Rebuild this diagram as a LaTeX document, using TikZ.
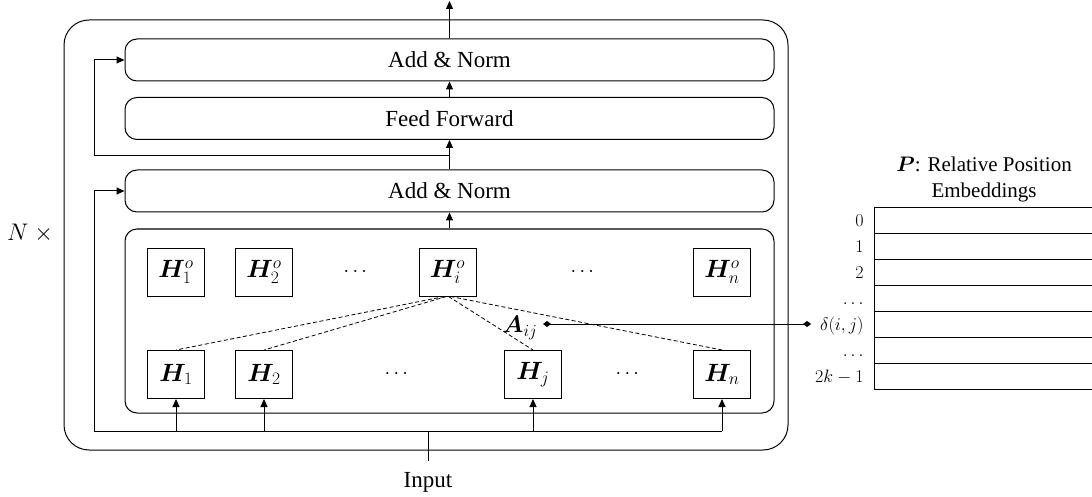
\RequirePackage{fix-cm}
\documentclass[tikz,border=0pt]{standalone}
\usepackage{amsmath}
\usepackage{bm}
\usepackage{fontspec}
\setmainfont{Liberation Serif}
\usetikzlibrary{arrows.meta}
\begin{document}
\begin{tikzpicture}[x=1pt,y=-1pt,
  line width=1pt,
  arr/.style={-{Triangle[length=8pt,width=7pt]}},
  dd/.style={{Diamond[length=8pt,width=6pt]}-{Diamond[length=8pt,width=6pt]}},
  layer/.style={draw, rounded corners=12pt, minimum width=649pt, minimum height=42pt, inner sep=0pt, font=\fontsize{23}{26}\selectfont},
  hbox/.style={draw, minimum width=57pt, minimum height=48pt, inner sep=0pt, font=\fontsize{25}{28}\selectfont},
  dotsn/.style={inner sep=0pt, font=\fontsize{20}{22}\selectfont},
  dashline/.style={dash pattern=on 4pt off 2.5pt, line width=0.8pt},
  lbl/.style={anchor=base east, inner sep=0pt, font=\fontsize{18}{20}\selectfont},
  ]
\useasboundingbox (0,0) rectangle (1092,497);

% containers
\node[draw, rounded corners=25pt, minimum width=724pt, minimum height=430pt, inner sep=0pt] (outer) at (426,235) {};
\node[layer] (ANtop) at (449.5,60) {Add \& Norm};
\node[layer] (FF) at (449.5,118.5) {Feed Forward};
\node[layer] (AN2) at (449.5,191) {Add \& Norm};
\node[layer, minimum height=184pt] (inner) at (449.5,321) {};

\node[inner sep=0pt, font=\fontsize{24}{26}\selectfont] (N) at (30,233) {$N$ $\times$};

% attention outputs
\node[hbox] (Hoa) at (176,272) {$\bm{H}^{o}_{1}$};
\node[hbox] (Hob) at (264,272) {$\bm{H}^{o}_{2}$};
\node[hbox] (Hoi) at (447.5,272) {$\bm{H}^{o}_{i}$};
\node[hbox] (Hon) at (722,272) {$\bm{H}^{o}_{n}$};
\node[dotsn] (d1) at (357,272) {$\cdots$};
\node[dotsn] (d2) at (584,272) {$\cdots$};

% inputs
\node[hbox] (Ha) at (176,374.5) {$\bm{H}_{1}$};
\node[hbox] (Hb) at (264,374.5) {$\bm{H}_{2}$};
\node[hbox] (Hj) at (533,374.5) {$\bm{H}_{j}$};
\node[hbox] (Hn) at (722,374.5) {$\bm{H}_{n}$};
\node[dotsn] (d3) at (398,374.5) {$\cdots$};
\node[dotsn] (d4) at (629,374.5) {$\cdots$};

% attention dashed lines
\draw[dashline] ([xshift=-3pt]Hoi.south) -- (Ha.north);
\draw[dashline] ([xshift=-1pt]Hoi.south) -- (Hb.north);
\draw[dashline] ([xshift=1pt]Hoi.south) -- (Hj.north);
\draw[dashline] ([xshift=3pt]Hoi.south) -- (Hn.north);

\node[inner sep=0pt, font=\fontsize{24}{26}\selectfont] (A) at (520,328) {$\bm{A}_{ij}$};

% vertical flow
\coordinate (out) at (449.5,1);
\draw[arr] (inner.north) -- (AN2.south);
\draw[arr] (AN2.north) -- (FF.south);
\draw[arr] (FF.north) -- (ANtop.south);
\draw[arr] (ANtop.north) -- (out);

% residual connections
\coordinate (fb1) at (449.5,156);
\coordinate (busL) at (94,431);
\coordinate (busR) at (722,431);
\draw[arr] (fb1) -- (94,156) |- (ANtop.west);
\draw (busR) -- (busL);
\draw[arr] (busL) |- (AN2.west);
\foreach \h in {Ha,Hb,Hj,Hn} {
  \draw[arr] (\h.south |- busL) -- (\h.south);
}

% input
\node[anchor=north, inner xsep=0pt, inner ysep=11pt, font=\fontsize{23}{26}\selectfont] (input) at (428,461) {Input};
\draw (input.north) -- (input.north |- busL);

% relative position embeddings table
\node[align=center, inner sep=0pt, font=\fontsize{21}{26}\selectfont] (title) at (984,179) {$\bm{P}$: Relative Position\\Embeddings};
\draw (1092,208) -- (874,208) -- (874,389) -- (1092,389);
\foreach \k in {1,...,6} {
  \draw (874,{208+25.857*\k}) -- (1092,{208+25.857*\k});
}
\node[lbl] (r0) at (864,{220.9+6}) {$0$};
\node[lbl] (r1) at (864,{246.8+6}) {$1$};
\node[lbl] (r2) at (864,{272.6+6}) {$2$};
\node[lbl] (r3) at (864,{298.5+6}) {$\ldots$};
\node[lbl] (rd) at (864,{324.4+6}) {$\delta(i,j)$};
\node[lbl] (r5) at (864,{350.2+6}) {$\ldots$};
\node[lbl] (rk) at (864,{376.1+6}) {$2k-1$};

\coordinate (Ad) at (543,324);
\coordinate (Dd) at (811,324);
\draw[dd] (Ad) -- (Dd);
\end{tikzpicture}
\end{document}
